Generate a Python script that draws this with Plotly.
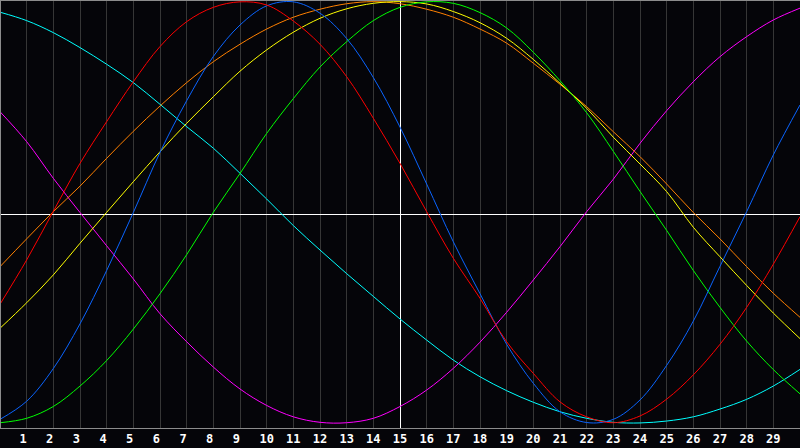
import plotly.graph_objects as go

# day offsets shown on the chart (0 = left edge, 30 = right edge)
days = list(range(0, 31))
day_labels = [str(d) if d >= 10 else str(d) + '\u00a0' for d in range(1, 30)]

# cycle values in percent at every day
physical = [-98.1, -89.5, -74.0, -52.8, -27.5, 0.0, 28.5, 53.0, 74.0, 88.9, 98.0,
            99.9, 94.5, 82.5, 64.0, 40.5, 13.5, -13.9, -38.5, -62.5, -81.0,
            -94.5, -99.6, -98.1, -88.9, -72.5, -51.5, -25.5, 0.4, 27.3, 51.0]
emotional = [-43.5, -22.5, 0.6, 23.3, 43.1, 62.0, 78.7, 90.5, 97.3, 99.9, 98.4,
             90.8, 79.8, 64.4, 44.7, 23.3, 0.4, -21.7, -40.7, -61.3, -76.3,
             -89.8, -96.9, -99.7, -96.5, -88.5, -77.0, -62.5, -45.0, -24.5, -2.0]
intellectual = [-99.7, -97.6, -92.0, -82.3, -70.2, -55.3, -38.5, -20.0, 0.1, 18.5, 37.5,
                54.0, 69.0, 81.0, 91.0, 97.3, 99.9, 99.2, 94.8, 87.5, 76.0,
                62.5, 47.3, 29.0, 10.0, -8.5, -27.5, -45.0, -61.0, -74.5, -86.0]
intuitive = [47.8, 33.6, 16.2, 0.0, -15.8, -31.5, -48.0, -61.3, -73.3, -83.7, -91.5,
             -96.9, -99.5, -99.7, -97.6, -92.0, -84.2, -73.9, -61.5, -47.3, -32.0,
             -16.2, 0.4, 15.8, 32.8, 48.3, 62.0, 73.9, 83.4, 91.3, 96.9]
aesthetic = [-54.9, -42.8, -29.6, -14.6, 0.1, 14.6, 28.8, 42.3, 54.9, 67.0, 77.1,
             85.5, 92.1, 96.6, 99.2, 100.0, 98.9, 95.3, 90.0, 82.6, 72.6,
             61.3, 49.4, 35.7, 23.0, 9.9, -7.0, -21.0, -34.6, -47.7, -59.8]
awareness = [-25.7, -12.5, 0.4, 12.5, 25.7, 38.5, 50.5, 61.6, 71.5, 79.8, 87.0,
             92.6, 96.4, 99.0, 100.0, 99.0, 96.4, 92.6, 87.0, 80.3, 70.8,
             60.8, 50.2, 38.3, 26.5, 13.5, 0.0, -12.5, -25.7, -38.3, -49.7]
spiritual = [95.0, 91.0, 85.3, 78.2, 70.3, 61.6, 51.3, 40.7, 30.5, 18.6, 6.4,
             -6.2, -17.8, -29.0, -39.8, -50.5, -60.5, -70.0, -77.9, -84.5, -90.0,
             -94.5, -97.6, -99.5, -99.8, -98.9, -96.9, -93.2, -88.6, -82.3, -74.4]

today = 15
zero_line = -0.85  # the white baseline sits a hair under the curves' middle
# plot area starts one pixel in, so the grey frame on the left/top stays visible
x_range = [0.0375, 30]
y_range = [-102.2, 100.3]


def cycle(values, name, color):
    return go.Scatter(x=days, y=values, name=name, mode='lines',
                      line={'color': color, 'width': 1, 'shape': 'spline', 'smoothing': 1},
                      hoverinfo='skip', showlegend=False)


traces = [
    cycle(spiritual, 'Spiritual', '#00ffff'),
    cycle(intuitive, 'Intuitive', '#ff00ff'),
    cycle(awareness, 'Awareness', '#ff8000'),
    cycle(aesthetic, 'Aesthetic', '#ffff00'),
    cycle(intellectual, 'Intellectual', '#00ff00'),
    cycle(physical, 'Physical', '#0a64ff'),
    cycle(emotional, 'Emotional', '#ff0000'),
]
# empty trace so the overlay axes (used only for the crisp white cross-hair) get drawn
traces.append(go.Scatter(x=[], y=[], xaxis='x2', yaxis='y2', showlegend=False, hoverinfo='skip'))

fig = go.Figure(data=traces)

hidden = {'showgrid': False, 'showticklabels': False, 'ticks': '', 'showline': False,
          'zeroline': True, 'zerolinecolor': '#ffffff', 'zerolinewidth': 1}

fig.update_layout(
    width=800, height=448,
    margin={'l': 1, 'r': 0, 't': 1, 'b': 20},
    paper_bgcolor='#050509',
    plot_bgcolor='#050509',
    xaxis={
        'range': x_range, 'tickmode': 'array', 'tickvals': list(range(1, 30)), 'ticktext': day_labels,
        'showgrid': True, 'gridcolor': '#363636', 'gridwidth': 1, 'zeroline': False,
        'showline': True, 'linecolor': '#8c8c8c', 'linewidth': 1, 'mirror': True, 'ticks': '',
        'tickfont': {'family': 'DejaVu Sans Mono', 'size': 12, 'color': '#ffffff', 'weight': 'bold'},
    },
    yaxis={
        'range': y_range, 'showgrid': False, 'zeroline': False, 'showticklabels': False,
        'showline': True, 'linecolor': '#8c8c8c', 'linewidth': 1, 'ticks': '',
    },
    xaxis2=dict(hidden, overlaying='x', anchor='y2',
                range=[x_range[0] - today, x_range[1] - today]),
    yaxis2=dict(hidden, overlaying='y', anchor='x2',
                range=[y_range[0] - zero_line, y_range[1] - zero_line]),
)

fig.write_html("out.html", config={'displayModeBar': False},
               post_script="document.body.style.margin = '0';")
